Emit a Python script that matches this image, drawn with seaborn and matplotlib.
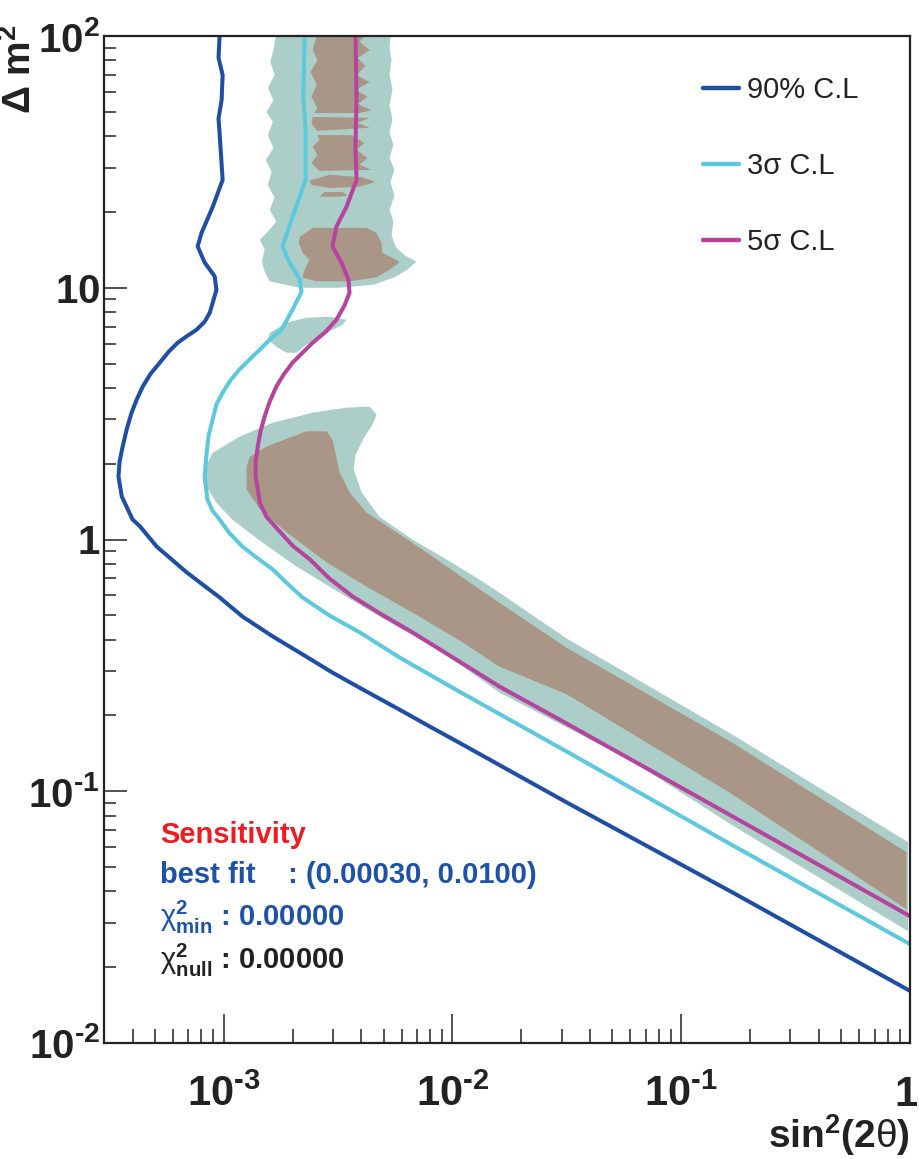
import matplotlib
matplotlib.use("Agg")
import matplotlib.pyplot as plt
import matplotlib.ticker as mticker
import matplotlib.transforms as mtransforms
from matplotlib import font_manager
import seaborn as sns

# contour lines (sin^2(2theta), delta m^2)
cl90_s2 = [9.6e-4, 9.5e-4, 9.9e-4, 9.8e-4, 9.5e-4, 9.6e-4, 9.9e-4, 8.95e-4, 8.0e-4, 7.7e-4, 8.26e-4,
           9.14e-4, 9.3e-4, 8.7e-4, 8.26e-4, 7.6e-4, 6.97e-4, 6.3e-4, 5.75e-4, 5.26e-4, 4.80e-4,
           4.43e-4, 4.17e-4, 3.96e-4, 3.77e-4, 3.62e-4, 3.51e-4, 3.47e-4, 3.59e-4, 4.0e-4, 4.30e-4,
           5.1e-4, 6.9e-4, 9.6e-4, 1.21e-3, 1.64e-3, 2.21e-3, 2.99e-3, 4.21e-3, 5.87e-3, 7.94e-3,
           1.07e-2, 3.15e-2, 0.167, 1.0]
cl90_dm2 = [100, 82, 70, 55.7, 47, 41.2, 26.8, 20.9, 16.5, 14.6, 12.6,
            11.1, 9.8, 7.96, 7.33, 6.8, 6.46, 6.05, 5.57, 5.04, 4.56,
            4.05, 3.60, 3.19, 2.74, 2.34, 2.04, 1.78, 1.48, 1.20, 1.13,
            0.937, 0.74, 0.589, 0.494, 0.412, 0.350, 0.296, 0.249, 0.211, 0.181,
            0.156, 0.0904, 0.0397, 0.0161]

cl3s_s2 = [2.26e-3, 2.23e-3, 2.28e-3, 2.28e-3, 2.0e-3, 1.81e-3, 1.94e-3, 2.15e-3, 2.19e-3, 2.0e-3,
           1.79e-3, 1.59e-3, 1.44e-3, 1.17e-3, 1.07e-3, 9.9e-4, 9.3e-4, 8.95e-4, 8.6e-4, 8.43e-4,
           8.26e-4, 8.5e-4, 8.95e-4, 9.6e-4, 1.06e-3, 1.21e-3, 1.39e-3, 1.64e-3, 1.90e-3, 2.21e-3,
           2.90e-3, 3.93e-3, 5.87e-3, 1.07e-2, 3.15e-2, 0.167, 1.0]
cl3s_dm2 = [100, 57.3, 42.4, 26.8, 19.1, 14.6, 12.6, 10.8, 9.64, 8.18,
            6.8, 6.22, 5.68, 4.73, 4.28, 3.83, 3.44, 2.99, 2.59, 2.21,
            1.78, 1.44, 1.30, 1.20, 1.06, 0.937, 0.849, 0.76, 0.668, 0.589,
            0.499, 0.428, 0.34, 0.249, 0.144, 0.0611, 0.0247]

cl5s_s2 = [3.77e-3, 3.81e-3, 3.77e-3, 3.81e-3, 3.44e-3, 3.11e-3, 2.99e-3, 3.27e-3, 3.51e-3, 3.55e-3,
           3.37e-3, 3.11e-3, 2.79e-3, 2.45e-3, 2.0e-3, 1.83e-3, 1.70e-3, 1.59e-3, 1.51e-3, 1.45e-3,
           1.41e-3, 1.38e-3, 1.38e-3, 1.44e-3, 1.54e-3, 1.72e-3, 2.0e-3, 2.38e-3, 2.90e-3, 3.66e-3,
           4.90e-3, 6.68e-3, 1.02e-2, 1.60e-2, 3.15e-2, 0.167, 1.0]
cl5s_dm2 = [100, 57.3, 36.3, 26.8, 20.9, 17.5, 14.6, 12.6, 10.8, 9.55,
            8.48, 7.46, 6.68, 6.05, 5.04, 4.52, 4.05, 3.53, 3.08, 2.69,
            2.34, 2.04, 1.78, 1.40, 1.23, 1.10, 0.946, 0.834, 0.700, 0.594,
            0.504, 0.428, 0.337, 0.261, 0.186, 0.0796, 0.0319]

line_labels = ["90% C.L", "3\u03c3 C.L", "5\u03c3 C.L"]

# allowed regions (polygons)
teal_s2 = [8.34e-4, 8.51e-4, 8.95e-4, 1.17e-3, 1.64e-3, 2.45e-3, 3.44e-3, 4.35e-3, 4.66e-3, 4.48e-3,
           4.13e-3, 3.77e-3, 3.70e-3, 4.01e-3, 4.80e-3, 6.68e-3, 9.42e-3, 1.31e-2, 1.60e-2, 3.15e-2,
           0.167, 0.98, 0.98, 0.167, 6.11e-2, 1.60e-2, 1.11e-2, 8.18e-3, 5.69e-3, 4.05e-3,
           2.90e-3, 2.08e-3, 1.48e-3, 1.09e-3, 9.3e-4, 8.43e-4]
teal_dm2 = [1.78, 2.02, 2.21, 2.56, 2.91, 3.19, 3.34, 3.37, 3.13, 2.86,
            2.56, 2.17, 1.90, 1.54, 1.23, 1.0, 0.834, 0.694, 0.616, 0.405,
            0.168, 0.0628, 0.0278, 0.0733, 0.1315, 0.247, 0.313, 0.376, 0.452, 0.542,
            0.650, 0.782, 0.972, 1.20, 1.40, 1.62]

blob_s2 = [1.59e-3, 1.88e-3, 2.30e-3, 2.90e-3, 3.44e-3, 3.31e-3, 2.82e-3, 2.30e-3, 2.08e-3, 1.88e-3,
           1.70e-3, 1.56e-3]
blob_dm2 = [6.62, 7.26, 7.60, 7.67, 7.46, 7.13, 6.62, 5.94, 5.52, 5.52, 5.83, 6.22]

col_s2 = [1.69e-3, 1.65e-3, 1.60e-3, 1.67e-3, 1.56e-3, 1.65e-3, 1.54e-3, 1.64e-3, 1.56e-3, 1.65e-3,
          1.53e-3, 1.62e-3, 1.56e-3, 1.67e-3, 1.59e-3, 1.70e-3, 1.56e-3, 1.44e-3, 1.51e-3, 1.47e-3,
          1.51e-3, 1.59e-3, 2.15e-3, 3.21e-3, 4.56e-3, 5.58e-3, 6.36e-3, 6.96e-3, 6.23e-3, 5.69e-3,
          5.42e-3, 5.52e-3, 5.31e-3, 5.58e-3, 5.36e-3, 5.58e-3, 5.31e-3, 5.52e-3, 5.31e-3, 5.47e-3,
          5.31e-3, 5.47e-3, 5.31e-3, 5.42e-3, 5.31e-3, 5.36e-3]
col_dm2 = [100, 88.0, 78.9, 70.0, 62.2, 55.7, 49.9, 45.6, 40.4, 35.9,
           32.2, 28.8, 25.6, 22.8, 20.4, 18.3, 16.7, 15.5, 14.2, 12.7,
           11.6, 10.6, 10.0, 10.0, 10.3, 11.0, 11.8, 12.7, 13.4, 14.4,
           16.1, 18.3, 20.4, 23.2, 26.3, 29.4, 32.8, 36.9, 41.6, 46.4,
           53.2, 61.1, 70.0, 80.3, 89.6, 100]

brown_s2 = [1.26e-3, 1.30e-3, 1.54e-3, 2.30e-3, 2.82e-3, 2.99e-3, 3.11e-3, 3.21e-3, 3.55e-3, 4.21e-3,
            5.69e-3, 8.18e-3, 1.19e-2, 1.60e-2, 3.15e-2, 0.167, 0.965, 0.965, 0.167, 3.15e-2,
            1.60e-2, 1.11e-2, 6.68e-3, 4.21e-3, 2.82e-3, 1.88e-3, 1.44e-3, 1.26e-3]
brown_dm2 = [1.95, 2.13, 2.34, 2.69, 2.69, 2.49, 2.13, 1.85, 1.54, 1.28,
             1.07, 0.857, 0.675, 0.562, 0.372, 0.156, 0.0573, 0.0340, 0.0973, 0.243,
             0.313, 0.390, 0.513, 0.650, 0.811, 1.07, 1.32, 1.58]

brown_a_s2 = [2.55e-3, 2.45e-3, 2.57e-3, 2.40e-3, 2.55e-3, 2.42e-3, 2.57e-3, 2.49e-3, 3.93e-3, 4.43e-3,
              3.85e-3, 4.26e-3, 3.77e-3, 4.35e-3, 3.81e-3, 4.17e-3, 3.85e-3, 4.35e-3, 3.93e-3, 4.13e-3]
brown_a_dm2 = [100, 88.0, 80.3, 72.0, 64.0, 57.3, 51.8, 49.4, 49.4, 50.8,
               53.7, 57.3, 61.1, 65.6, 70.0, 76.0, 81.8, 88.0, 94.7, 100]
brown_b_s2 = [2.45e-3, 4.35e-3, 3.85e-3, 4.35e-3, 2.57e-3, 2.42e-3]
brown_b_dm2 = [47.7, 47.3, 45.2, 43.2, 42.0, 44.8]
brown_c_s2 = [2.57e-3, 3.62e-3, 4.13e-3, 3.81e-3, 4.26e-3, 3.93e-3, 4.43e-3, 2.62e-3, 2.42e-3, 2.57e-3,
              2.45e-3, 2.62e-3]
brown_c_dm2 = [40.4, 40.4, 37.6, 35.3, 32.8, 30.8, 29.4, 29.1, 31.3, 33.7, 36.3, 38.6]
brown_d_s2 = [2.37e-3, 2.90e-3, 4.01e-3, 4.61e-3, 3.93e-3, 2.90e-3, 2.42e-3]
brown_d_dm2 = [26.6, 28.1, 27.5, 26.3, 25.2, 24.9, 25.6]
brown_e_s2 = [2.62e-3, 2.76e-3, 3.31e-3, 3.48e-3, 3.21e-3]
brown_e_dm2 = [23.0, 24.0, 24.0, 23.2, 23.0]
brown_f_s2 = [2.45e-3, 4.21e-3, 4.66e-3, 4.90e-3, 4.94e-3, 5.69e-3, 5.87e-3, 5.31e-3, 4.66e-3, 3.55e-3,
              2.55e-3, 2.21e-3, 2.26e-3, 2.37e-3, 2.21e-3, 2.13e-3, 2.15e-3]
brown_f_dm2 = [17.3, 17.3, 16.5, 15.1, 13.8, 12.9, 12.6, 11.8, 11.0, 10.6,
               10.6, 11.0, 11.8, 12.9, 13.8, 15.1, 15.9]

x_ticks = [1e-3, 1e-2, 1e-1, 1]
x_ticklabels = [r"10^{\text{-}3}", r"10^{\text{-}2}", r"10^{\text{-}1}", "1"]
y_ticks = [1e-2, 1e-1, 1, 10, 100]
y_ticklabels = [r"10^{\text{-}2}", r"10^{\text{-}1}", "1", "10", "10^{2}"]

sns.set_style("white")
names = {f.name for f in font_manager.fontManager.ttflist}
narrow = "Liberation Sans Narrow" if "Liberation Sans Narrow" in names else "Liberation Sans"
plt.rcParams["font.family"] = ["Liberation Sans", "DejaVu Sans"]
plt.rcParams["mathtext.fontset"] = "custom"
plt.rcParams["mathtext.rm"] = "Liberation Sans:bold"
plt.rcParams["mathtext.it"] = "Liberation Sans:italic"
plt.rcParams["mathtext.bf"] = "Liberation Sans:bold"
plt.rcParams["mathtext.sf"] = narrow + ":bold"
plt.rcParams["mathtext.tt"] = "Liberation Sans"

TEAL = "#accec9"
BROWN = "#aa9686"
BLUE = "#1f4ea3"
CYAN = "#5ec8dc"
MAGENTA = "#b5449c"

fig = plt.figure(figsize=(9.2, 11.59), dpi=100)
ax = fig.add_axes([104 / 920, 1 - 1043 / 1159, 806 / 920, 1007 / 1159])
ax.set_xscale("log")
ax.set_yscale("log")

# filled regions
ax.fill(col_s2, col_dm2, color=TEAL, lw=0)
ax.fill(blob_s2, blob_dm2, color=TEAL, lw=0)
ax.fill(teal_s2, teal_dm2, color=TEAL, lw=0)
ax.fill(brown_s2, brown_dm2, color=BROWN, lw=0)
for xs, ys in [(brown_a_s2, brown_a_dm2), (brown_b_s2, brown_b_dm2), (brown_c_s2, brown_c_dm2),
               (brown_d_s2, brown_d_dm2), (brown_e_s2, brown_e_dm2), (brown_f_s2, brown_f_dm2)]:
    ax.fill(xs, ys, color=BROWN, lw=0)

# contour lines
for xs, ys, c, lab in [(cl90_s2, cl90_dm2, BLUE, line_labels[0]),
                       (cl3s_s2, cl3s_dm2, CYAN, line_labels[1]),
                       (cl5s_s2, cl5s_dm2, MAGENTA, line_labels[2])]:
    sns.lineplot(x=xs, y=ys, sort=False, estimator=None, color=c, linewidth=2.9,
                 label=lab, ax=ax)

ax.set_xlim(3e-4, 1)
ax.set_ylim(1e-2, 1e2)

# axes / ticks in ROOT style
for sp in ax.spines.values():
    sp.set_linewidth(1.6)
    sp.set_color("#222222")
ax.xaxis.set_major_locator(mticker.FixedLocator(x_ticks))
ax.yaxis.set_major_locator(mticker.FixedLocator(y_ticks))
ax.xaxis.set_minor_locator(mticker.LogLocator(base=10, subs=range(2, 10), numticks=20))
ax.yaxis.set_minor_locator(mticker.LogLocator(base=10, subs=range(2, 10), numticks=20))
ax.set_xticklabels([r"$\mathsf{%s}$" % t for t in x_ticklabels])
ax.set_yticklabels([r"$\mathbf{%s}$" % t for t in y_ticklabels])
ax.tick_params(axis="x", which="major", direction="in", length=21, width=1.1,
               labelsize=30, pad=23, colors="#222222", bottom=True, top=False)
ax.tick_params(axis="x", which="minor", direction="in", length=10, width=1.1,
               colors="#222222", bottom=True, top=False)
ax.tick_params(axis="y", which="major", direction="in", length=16.5, width=1.1,
               labelsize=29, pad=3, colors="#222222", left=True, right=False)
ax.tick_params(axis="y", which="minor", direction="in", length=8.6, width=1.1,
               colors="#222222", left=True, right=False)
ax.set_xlabel("")
ax.set_ylabel("")
# keep the "1" label inside the canvas
last = ax.xaxis.get_majorticklabels()[-1]
last.set_transform(last.get_transform()
                   + mtransforms.ScaledTranslation(-4 / 100, 0, fig.dpi_scale_trans))

ax.text(-0.104, 1.012, r"$\mathbf{\Delta\ m^{2}}$", transform=ax.transAxes, rotation=90,
        ha="center", va="top", fontsize=28, color="#222222")
ax.text(1.0, -0.114, r"$\mathsf{sin^{2}(2}\mathtt{\theta}\mathsf{)}$", transform=ax.transAxes,
        ha="right", va="bottom", fontsize=28, color="#222222")

leg = ax.legend(loc="upper left", bbox_to_anchor=(0.743, 0.960), frameon=False,
                fontsize=21, handlelength=1.24, handletextpad=0.28, labelspacing=1.64,
                borderpad=0, borderaxespad=0)
for t in leg.get_texts():
    t.set_color("#222222")
for h in leg.get_lines():
    h.set_linewidth(3.2)

# fit summary text
ax.text(0.0695, 0.2065, "Sensitivity", transform=ax.transAxes, color="#ed1c24",
        fontsize=21, fontweight="bold", va="center")
ax.text(0.0695, 0.167, "best fit    : (0.00030, 0.0100)", transform=ax.transAxes,
        color="#1f52a5", fontsize=21, fontweight="bold", va="center")
ax.text(0.0695, 0.125, r"$\mathtt{\chi}^{\mathbf{2}}_{\mathbf{min}}$ : 0.00000",
        transform=ax.transAxes, color="#1f52a5", fontsize=21, fontweight="bold", va="center")
ax.text(0.0695, 0.082, r"$\mathtt{\chi}^{\mathbf{2}}_{\mathbf{null}}$ : 0.00000",
        transform=ax.transAxes, color="#222222", fontsize=21, fontweight="bold", va="center")

fig.savefig("out.png", dpi=100)
